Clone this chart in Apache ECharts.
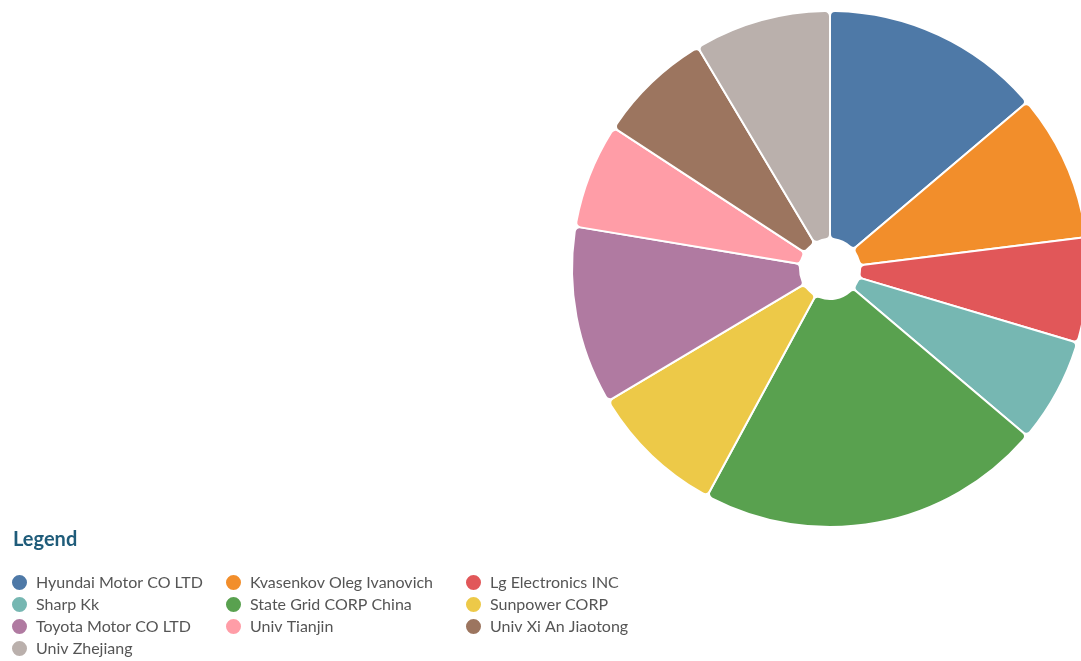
<!DOCTYPE html>
<html><head><meta charset="utf-8">
<script src="https://cdn.jsdelivr.net/npm/echarts@6/dist/echarts.min.js"></script>
<style>html,body{margin:0;padding:0;background:#fff}#c{width:1081px;height:661px}</style>
</head><body><div id="c"></div>
<script>
const categories = ["Hyundai Motor CO LTD","Kvasenkov Oleg Ivanovich","Lg Electronics INC","Sharp Kk","State Grid CORP China","Sunpower CORP","Toyota Motor CO LTD","Univ Tianjin","Univ Xi An Jiaotong","Univ Zhejiang"];
const values = [21,14,10,10,33,13,17,10,11,13];
const colors = ["#4e79a7","#f28e2b","#e15759","#76b7b2","#59a14f","#edc948","#b07aa1","#ff9da7","#9c755f","#bab0ac"];
const legendColumns = [
  ["Hyundai Motor CO LTD","Sharp Kk","Toyota Motor CO LTD","Univ Zhejiang"],
  ["Kvasenkov Oleg Ivanovich","State Grid CORP China","Univ Tianjin"],
  ["Lg Electronics INC","Sunpower CORP","Univ Xi An Jiaotong"]
];
const legendLefts = [10, 224, 464];
const font = "Lato, 'Open Sans', sans-serif";
const chart = echarts.init(document.getElementById('c'), null, {renderer:'canvas'});
chart.setOption({
  color: colors,
  animation: false,
  title: {text: 'Legend', left: 8, top: 525, textStyle: {fontFamily: font, fontSize: 20, fontWeight: 'bold', color: '#1f5c7a'}},
  legend: legendColumns.map((col, i) => ({
    data: col, orient: 'vertical', left: legendLefts[i], top: 573, height: 200, padding: 0,
    itemWidth: 17, itemHeight: 17, itemGap: 3, icon: 'circle',
    textStyle: {fontFamily: font, fontSize: 16, lineHeight: 17, color: '#555', padding: [0,0,0,3]}
  })),
  series: [{
    type: 'pie', center: [830, 269], radius: [30, 258], startAngle: 90, clockwise: true,
    label: {show: false}, labelLine: {show: false},
    itemStyle: {borderColor: '#fff', borderWidth: 2, borderRadius: 5},
    data: categories.map((c, i) => ({name: c, value: values[i]}))
  }]
});
</script></body></html>
